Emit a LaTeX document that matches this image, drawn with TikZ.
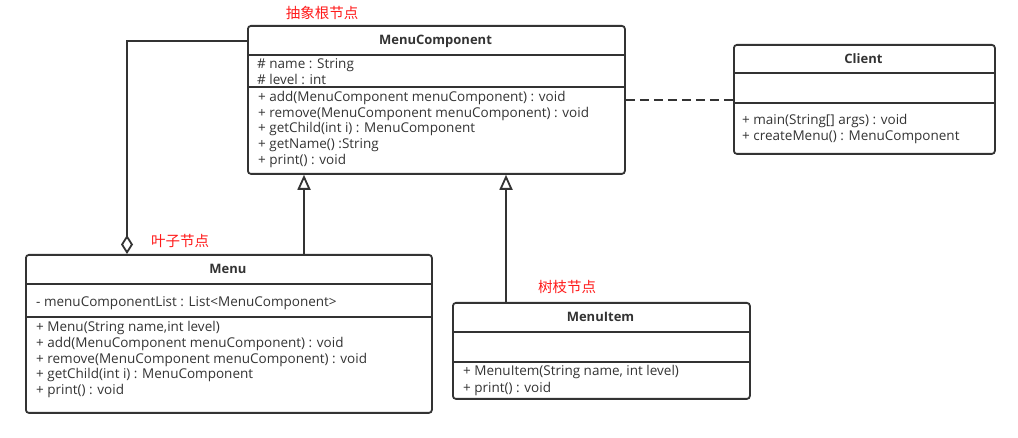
\documentclass[tikz,border=0pt]{standalone}
\usepackage{fontspec}
\setmainfont{Open Sans}
\newfontfamily\cjkfont{Noto Sans CJK SC}
\usetikzlibrary{arrows.meta}
\definecolor{umlgray}{HTML}{333333}
\definecolor{notered}{HTML}{FF1A1A}
\tikzset{
  classbox/.style={draw=umlgray, line width=1.8pt, rounded corners=3pt, inner sep=0pt, anchor=north west},
  classname/.style={anchor=base, inner sep=0pt, text=umlgray, font=\bfseries\fontsize{13}{15}\selectfont},
  member/.style={anchor=base west, inner sep=0pt, text=umlgray, font=\fontsize{13.5}{15}\selectfont},
  note/.style={inner sep=0pt, text=notered, font=\cjkfont\fontsize{14.5}{17}\selectfont},
  sepline/.style={draw=umlgray, line width=1.8pt},
  extends/.style={draw=umlgray, line width=1.8pt, -{Triangle[open, length=15pt, width=13pt]}},
  aggregates/.style={draw=umlgray, line width=1.8pt, -{Diamond[open, length=19pt, width=12pt]}},
  depends/.style={draw=umlgray, line width=1.8pt, dash pattern=on 9pt off 5pt}
}
\begin{document}
\begin{tikzpicture}[x=1pt, y=-1pt]
  \useasboundingbox (0,0) rectangle (1018,438);

  % Classe astratta
  \node[classbox, minimum width=377pt, minimum height=148pt] (comp) at (247,25) {};
  \node[classname] (compName) at (435.5,44.5) {MenuComponent};
  \draw[sepline] (247,55) -- (624,55);
  \draw[sepline] (247,87) -- (624,87);
  \node[member] (compAttr1) at (257,68.5) {\# name : String};
  \node[member] (compAttr2) at (257,84.3) {\# level : int};
  \foreach \txt [count=\i] in {{+ add(MenuComponent menuComponent) : void},
      {+ remove(MenuComponent menuComponent) : void},
      {+ getChild(int i) : MenuComponent}, {+ getName() :String}, {+ print() : void}}
    \node[member] (compOp\i) at (258,{101.5+(\i-1)*15.75}) {\txt};
  \node[note] (compNote) at (322,13) {抽象根节点};

  % Client
  \node[classbox, minimum width=261pt, minimum height=109pt] (client) at (733,44) {};
  \node[classname] (clientName) at (863.5,63.5) {Client};
  \draw[sepline] (733,73) -- (994,73);
  \draw[sepline] (733,103) -- (994,103);
  \node[member] (clientOp1) at (742,124.5) {+ main(String[] args) : void};
  \node[member] (clientOp2) at (742,141) {+ createMenu() : MenuComponent};

  % Menu
  \node[classbox, minimum width=406pt, minimum height=158pt] (menu) at (25,254) {};
  \node[classname] (menuName) at (228,273.5) {Menu};
  \draw[sepline] (25,284) -- (431,284);
  \draw[sepline] (25,317) -- (431,317);
  \node[member] (menuAttr1) at (36,306.5) {- menuComponentList : List<MenuComponent>};
  \foreach \txt [count=\i] in {{+ Menu(String name,int level)},
      {+ add(MenuComponent menuComponent) : void},
      {+ remove(MenuComponent menuComponent) : void},
      {+ getChild(int i) : MenuComponent}, {+ print() : void}}
    \node[member] (menuOp\i) at (36,{331.5+(\i-1)*15.75}) {\txt};
  \node[note] (menuNote) at (180,241) {叶子节点};

  % MenuItem
  \node[classbox, minimum width=297pt, minimum height=96pt] (item) at (452,302) {};
  \node[classname] (itemName) at (600.5,321.5) {MenuItem};
  \draw[sepline] (452,332) -- (749,332);
  \draw[sepline] (452,362) -- (749,362);
  \node[member] (itemOp1) at (463,375.5) {+ MenuItem(String name, int level)};
  \node[member] (itemOp2) at (463,392) {+ print() : void};
  \node[note] (itemNote) at (567,287) {树枝节点};

  % Relazioni
  \draw[aggregates] (comp.north west) ++(0,16) -| ([xshift=102pt]menu.north west);
  \draw[extends] ([xshift=279pt]menu.north west) coordinate (menuUp) -- (menuUp |- comp.south);
  \draw[extends] ([xshift=54pt]item.north west) coordinate (itemUp) -- (itemUp |- comp.south);
  \draw[depends] (comp.east) -- (comp.east -| client.west);
\end{tikzpicture}
\end{document}
